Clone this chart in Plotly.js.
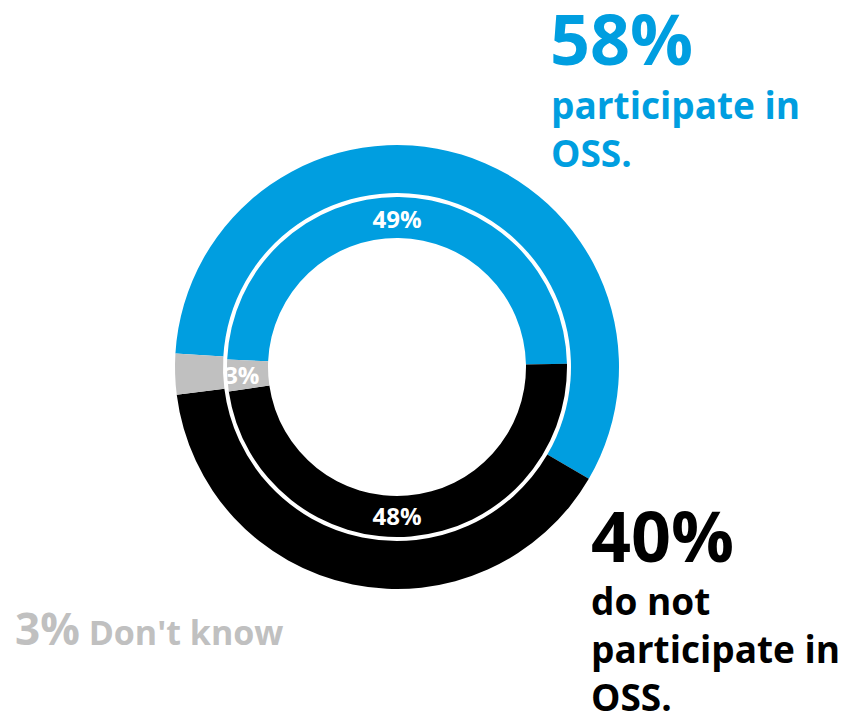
<!DOCTYPE html>
<html>
<head>
<meta charset="utf-8">
<script src="https://cdn.plot.ly/plotly-3.0.1.min.js"></script>
<style>
  html, body { margin: 0; padding: 0; background: #fff; }
  #chart { width: 844px; height: 721px; }
</style>
</head>
<body>
<div id="chart"></div>
<script>
// ---- data ----
const categories = ["participate in OSS", "do not participate in OSS", "Don't know"];
const outerValues = [58, 40, 3];
const innerValues = [49, 48, 3];
const sliceColors = ["#009ee0", "#000000", "#c0c0c0"];
const blueLabelText = "participate in<br>OSS.";
const blackLabelText = "do not<br>participate in<br>OSS.";
const grayLabelText = "Don't know";

// ---- layout helpers (page pixels -> paper) ----
const W = 844, H = 721;
const px = x => x / W;
const py = y => 1 - y / H;
const FONT = "Open Sans, Noto Sans, DejaVu Sans, sans-serif";

// ring geometry (page pixels)
const cx = 397, cy = 367;
const outerR = 222, outerHoleR = 174;
const innerR = 170, innerHoleR = 129;

const outerTrace = {
  type: "pie",
  labels: categories,
  values: outerValues,
  sort: false,
  direction: "clockwise",
  rotation: -86.5,
  hole: outerHoleR / outerR,
  marker: { colors: sliceColors, line: { width: 0 } },
  textinfo: "none",
  hoverinfo: "label+value",
  domain: { x: [px(cx - outerR), px(cx + outerR)], y: [py(cy + outerR), py(cy - outerR)] },
  showlegend: false
};

const innerTrace = {
  type: "pie",
  labels: categories,
  values: innerValues,
  sort: false,
  direction: "clockwise",
  rotation: -87.5,
  hole: innerHoleR / innerR,
  marker: { colors: sliceColors, line: { width: 0 } },
  texttemplate: "%{value}%",
  textposition: "inside",
  insidetextorientation: "horizontal",
  insidetextfont: { family: FONT, size: 24, color: "#ffffff", weight: 700 },
  hoverinfo: "label+value",
  domain: { x: [px(cx - innerR), px(cx + innerR)], y: [py(cy + innerR), py(cy - innerR)] },
  showlegend: false
};

const annotations = [
  { text: outerValues[0] + "%", x: px(548), y: py(38), xanchor: "left", yanchor: "middle",
    font: { family: FONT, size: 70, color: sliceColors[0], weight: 700 } },
  { text: blueLabelText, x: px(549), y: py(128), xanchor: "left", yanchor: "middle", align: "left",
    font: { family: FONT, size: 37, color: sliceColors[0], weight: 700 } },
  { text: outerValues[1] + "%", x: px(589), y: py(535), xanchor: "left", yanchor: "middle",
    font: { family: FONT, size: 70, color: sliceColors[1], weight: 700 } },
  { text: blackLabelText, x: px(589), y: py(648), xanchor: "left", yanchor: "middle", align: "left",
    font: { family: FONT, size: 37, color: sliceColors[1], weight: 700 } },
  { text: '<span style="font-size:44px">' + outerValues[2] + '%</span> ' + grayLabelText,
    x: px(13), y: py(628), xanchor: "left", yanchor: "middle", align: "left",
    font: { family: FONT, size: 34, color: sliceColors[2], weight: 700 } }
].map(a => Object.assign({ xref: "paper", yref: "paper", showarrow: false }, a));

const layout = {
  width: W, height: H,
  margin: { l: 0, r: 0, t: 0, b: 0 },
  paper_bgcolor: "#ffffff",
  plot_bgcolor: "#ffffff",
  showlegend: false,
  uniformtext: { mode: "show", minsize: 24 },
  annotations: annotations
};

Plotly.newPlot("chart", [outerTrace, innerTrace], layout, { displayModeBar: false, staticPlot: true });
</script>
</body>
</html>
